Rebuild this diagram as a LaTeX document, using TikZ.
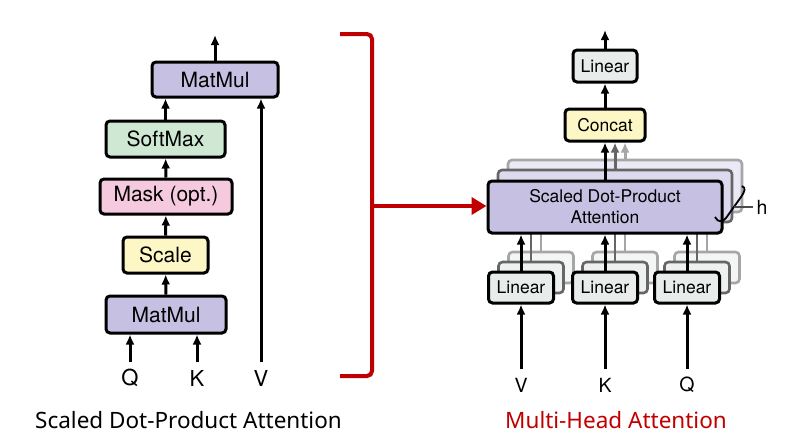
\documentclass[tikz,border=0pt]{standalone}
\usepackage{fontspec}
\setmainfont{TeX Gyre Heros}
\newfontfamily\capfont{Noto Sans}
\usetikzlibrary{arrows.meta,positioning}
\definecolor{mmpurple}{RGB}{198,192,226}
\definecolor{smgreen}{RGB}{206,232,212}
\definecolor{mkpink}{RGB}{246,202,222}
\definecolor{scyellow}{RGB}{252,247,196}
\definecolor{lingrey}{RGB}{232,237,235}
\definecolor{brkred}{RGB}{192,0,0}

\begin{document}
\begin{tikzpicture}[x=1pt, y=-1pt,
    blk/.style = {draw, line width=3pt, rounded corners=4pt, inner sep=0pt, font=\fontsize{21}{24}\selectfont},
    rblk/.style = {blk, font=\fontsize{17.5}{21}\selectfont},
    ghostA/.style = {rblk, draw=black!60, line width=2.6pt},
    ghostB/.style = {rblk, draw=black!35, line width=2.6pt},
    arr/.style = {-{Latex[length=10pt,width=9pt]}, line width=3pt},
    lbl/.style = {font=\fontsize{22}{25}\selectfont},
    rlbl/.style = {font=\fontsize{19.5}{22}\selectfont},
    captxt/.style = {font=\capfont\fontsize{22.5}{26}\selectfont}]

    \useasboundingbox (0,0) rectangle (786,440);

    % scaled dot-product attention
    \node[blk, fill=mmpurple, minimum width=126, minimum height=35] (mm2) at (215,79.5) {MatMul};
    \node[blk, fill=smgreen, minimum width=119, minimum height=36] (sm) at (165.5,139) {SoftMax};
    \node[blk, fill=mkpink, minimum width=132, minimum height=35] (mask) at (166,196.5) {Mask (opt.)};
    \node[blk, fill=scyellow, minimum width=85, minimum height=36] (scale) at (165.5,255) {Scale};
    \node[blk, fill=mmpurple, minimum width=120, minimum height=37] (mm1) at (166,314.5) {MatMul};
    \node[lbl] (q) at (130,378) {Q};
    \node[lbl] (k) at (197,378) {K};
    \node[lbl] (v) at (261,378) {V};
    \coordinate (out1) at (215,35);

    \draw[arr] (mm2) -- (out1);
    \draw[arr] (sm.north) -- (sm.north |- mm2.south);
    \draw[arr] (mask) -- (sm);
    \draw[arr] (scale) -- (mask);
    \draw[arr] (mm1) -- (scale);
    \draw[arr] ([yshift=4pt]q.north) -- (q.north |- mm1.south);
    \draw[arr] ([yshift=4pt]k.north) -- (k.north |- mm1.south);
    \draw[arr] ([yshift=4pt]v.north) -- (v.north |- mm2.south);
    \node[captxt] (capL) at (188.5,420) {Scaled Dot-Product Attention};

    % bracket
    \draw[brkred, line width=4pt, rounded corners=5pt] (340,34) -- (372,34) -- (372,376) -- (340,376);
    \coordinate (brk) at (372,206);

    % multi-head attention
    \node[ghostB, fill=mmpurple!35, minimum width=234, minimum height=52, align=center] (sdpaB) at (625,186) {};
    \node[ghostA, fill=mmpurple!60, minimum width=234, minimum height=52, align=center] (sdpaA) at (615,196) {};
    \node[rblk, fill=scyellow, minimum width=80, minimum height=32] (concat) at (605,125) {Concat};
    \node[rblk, fill=lingrey, minimum width=64, minimum height=32] (lin) at (605,66) {Linear};
    \coordinate (out2) at (605,30);
    \draw[arr, black!35] (sdpaB.north) -- (sdpaB.north |- concat.south);
    \draw[arr, black!60] (sdpaA.north) -- (sdpaA.north |- concat.south);

    \foreach \n/\x in {V/521,K/605,Q/687} {
        \node[ghostB, fill=lingrey!50, minimum width=65, minimum height=31] (lin\n B) at (\x+20,267.5) {};
        \node[ghostA, fill=lingrey!80, minimum width=65, minimum height=31] (lin\n A) at (\x+10,277.5) {};
        \draw[black!35, line width=2.6pt] (lin\n B.north) -- ++(0,-40);
        \draw[black!60, line width=2.6pt] (lin\n A.north) -- ++(0,-40);
    }

    \node[rblk, fill=mmpurple, minimum width=234, minimum height=52, align=center] (sdpa) at (605,207) {Scaled Dot-Product\\Attention};

    \foreach \n/\x in {V/521,K/605,Q/687} {
        \node[rblk, fill=lingrey, minimum width=65, minimum height=31] (lin\n) at (\x,287.5) {Linear};
        \node[rlbl] (in\n) at (\x,385) {\n};
        \draw[arr] ([yshift=5pt]in\n.north) -- (lin\n);
        \draw[arr] (lin\n) -- (lin\n |- sdpa.south);
    }

    \draw[arr] (sdpa) -- (concat);
    \draw[arr] (concat) -- (lin);
    \draw[arr] (lin) -- (out2);

    \draw[line width=1.8pt] (715,217) .. controls (718,223) and (723,222) .. (726,218) -- (741,197) .. controls (745,191) and (746,188) .. (742,186);
    \coordinate (hmid) at (734,207);
    \node[rlbl] (h) at (762,207) {h};
    \draw[black!70, line width=1.2pt] (hmid) -- (h.west);

    \draw[brkred, line width=4pt, -{Triangle[length=15pt,width=17pt]}] (brk) -- (brk -| sdpa.west);
    \node[captxt, text=brkred] (capR) at (616,420) {Multi-Head Attention};
\end{tikzpicture}
\end{document}
